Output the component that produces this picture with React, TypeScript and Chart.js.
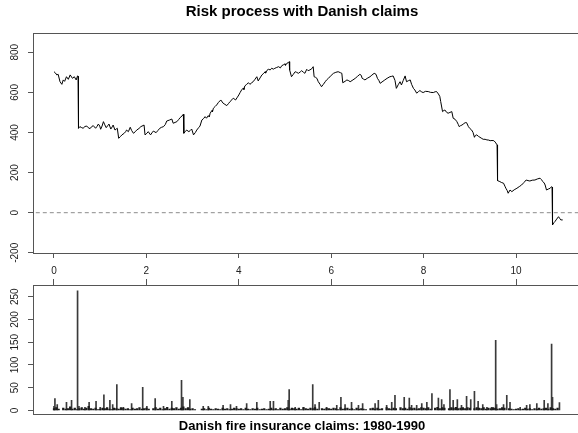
import React, { useEffect, useRef } from "react";
import { Chart, registerables } from "chart.js";

Chart.register(...registerables);

const FONT = "'Liberation Sans', Arial, Helvetica, sans-serif";

const mainTitle = "Risk process with Danish claims";
const xLabel = "Danish fire insurance claims: 1980-1990";

const xTicks = [0, 2, 4, 6, 8, 10];
const riskYTicks = [-200, 0, 200, 400, 600, 800];
const claimYTicks = [0, 50, 100, 150, 200, 250];

// [time, reserve] points of the risk process
const riskPoints = [
  [0.0, 703], [0.03, 697], [0.06, 687], [0.09, 690], [0.13, 653], [0.17, 640], [0.2, 662], [0.23, 655], [0.27, 678], [0.31, 665],
  [0.35, 687], [0.4, 670], [0.44, 678], [0.48, 662], [0.51, 682], [0.52, 680], [0.53, 421], [0.56, 429], [0.6, 424], [0.63, 421],
  [0.67, 430], [0.71, 432], [0.74, 424], [0.78, 419], [0.81, 428], [0.85, 434], [0.9, 421], [0.93, 430], [0.96, 442], [0.99, 432],
  [1.01, 416], [1.04, 432], [1.07, 454], [1.1, 438], [1.13, 424], [1.16, 433], [1.19, 442], [1.23, 417], [1.26, 428], [1.28, 437],
  [1.32, 412], [1.35, 418], [1.37, 421], [1.4, 371], [1.44, 380], [1.47, 388], [1.52, 396], [1.55, 404], [1.57, 412], [1.61, 404],
  [1.65, 426], [1.68, 410], [1.72, 396], [1.76, 404], [1.79, 412], [1.84, 420], [1.88, 429], [1.95, 437], [1.97, 388], [2.01, 396],
  [2.04, 404], [2.09, 388], [2.12, 398], [2.15, 407], [2.21, 399], [2.25, 410], [2.29, 421], [2.33, 426], [2.37, 429], [2.41, 440],
  [2.44, 457], [2.5, 462], [2.55, 467], [2.58, 446], [2.62, 450], [2.66, 454], [2.7, 465], [2.73, 474], [2.77, 482], [2.8, 491],
  [2.81, 396], [2.84, 404], [2.87, 412], [2.92, 404], [2.95, 410], [2.98, 417], [3.02, 388], [3.06, 400], [3.09, 412], [3.13, 424],
  [3.16, 432], [3.2, 462], [3.24, 470], [3.27, 479], [3.3, 471], [3.34, 484], [3.36, 477], [3.38, 496], [3.42, 510], [3.43, 503],
  [3.45, 521], [3.49, 530], [3.52, 537], [3.56, 550], [3.61, 562], [3.66, 546], [3.7, 540], [3.74, 534], [3.78, 545], [3.81, 554],
  [3.85, 563], [3.88, 571], [3.93, 562], [3.97, 576], [4.0, 587], [4.03, 600], [4.06, 612], [4.1, 622], [4.11, 614], [4.13, 632],
  [4.17, 640], [4.21, 648], [4.24, 640], [4.28, 648], [4.31, 653], [4.35, 665], [4.39, 678], [4.42, 657], [4.46, 672], [4.5, 687],
  [4.54, 695], [4.57, 703], [4.58, 696], [4.61, 710], [4.64, 715], [4.68, 712], [4.71, 720], [4.75, 716], [4.78, 720], [4.82, 724],
  [4.86, 728], [4.9, 722], [4.93, 733], [4.97, 738], [5.0, 742], [5.01, 735], [5.04, 745], [5.07, 748], [5.09, 753], [5.1, 712],
  [5.14, 678], [5.18, 690], [5.22, 703], [5.25, 700], [5.29, 695], [5.33, 702], [5.36, 708], [5.4, 700], [5.43, 695], [5.47, 715],
  [5.5, 708], [5.54, 712], [5.58, 718], [5.61, 728], [5.63, 678], [5.66, 675], [5.69, 670], [5.72, 653], [5.76, 640], [5.79, 628],
  [5.83, 640], [5.87, 653], [5.9, 662], [5.94, 670], [6.0, 685], [6.05, 695], [6.1, 700], [6.15, 703], [6.2, 698], [6.23, 695],
  [6.25, 648], [6.3, 655], [6.34, 662], [6.38, 658], [6.41, 653], [6.47, 662], [6.52, 670], [6.57, 680], [6.62, 690], [6.65, 685],
  [6.67, 670], [6.7, 666], [6.73, 662], [6.78, 670], [6.84, 678], [6.88, 686], [6.93, 695], [6.97, 690], [7.0, 670], [7.03, 660],
  [7.06, 645], [7.1, 652], [7.16, 662], [7.21, 670], [7.27, 678], [7.31, 680], [7.34, 682], [7.38, 660], [7.41, 620], [7.45, 638],
  [7.49, 653], [7.52, 637], [7.56, 660], [7.6, 682], [7.63, 653], [7.67, 658], [7.71, 662], [7.74, 640], [7.78, 620], [7.81, 612],
  [7.85, 596], [7.89, 604], [7.92, 609], [7.96, 602], [7.99, 599], [8.04, 605], [8.1, 604], [8.15, 600], [8.21, 599], [8.25, 603],
  [8.28, 604], [8.32, 592], [8.35, 580], [8.37, 554], [8.41, 504], [8.44, 510], [8.46, 512], [8.5, 500], [8.53, 496], [8.57, 500],
  [8.61, 504], [8.64, 471], [8.68, 466], [8.72, 454], [8.75, 440], [8.77, 429], [8.8, 434], [8.83, 437], [8.87, 444], [8.9, 449],
  [8.93, 449], [8.97, 429], [9.0, 420], [9.04, 412], [9.07, 400], [9.1, 376], [9.12, 385], [9.15, 388], [9.19, 380], [9.22, 376],
  [9.26, 370], [9.29, 366], [9.33, 366], [9.37, 363], [9.41, 362], [9.44, 359], [9.48, 360], [9.52, 359], [9.55, 352], [9.59, 338],
  [9.6, 160], [9.65, 155], [9.69, 150], [9.73, 147], [9.76, 132], [9.78, 122], [9.81, 110], [9.83, 97], [9.87, 113], [9.91, 105],
  [9.96, 114], [10.02, 122], [10.07, 130], [10.12, 138], [10.17, 150], [10.22, 163], [10.26, 160], [10.3, 158], [10.35, 162], [10.41, 163],
  [10.46, 168], [10.52, 172], [10.55, 165], [10.58, 155], [10.61, 148], [10.63, 138], [10.66, 113], [10.7, 118], [10.74, 122], [10.77, 130],
  [10.78, 128], [10.79, -61], [10.82, -50], [10.84, -45], [10.88, -32], [10.92, -20], [10.95, -30], [10.97, -36], [11.01, -36],
];

// [time, size] of the visible claims
const largeClaims = [
  [0.0, 9], [0.02, 26], [0.07, 13], [0.27, 18], [0.38, 22], [0.51, 263], [0.54, 9], [0.67, 7], [0.76, 18], [0.91, 20],
  [1.0, 7], [1.08, 34], [1.21, 22], [1.27, 13], [1.36, 57], [1.5, 7], [1.68, 15], [1.92, 51], [2.01, 9], [2.19, 26],
  [2.37, 9], [2.55, 20], [2.76, 66], [2.79, 29], [2.94, 24], [3.23, 9], [3.34, 9], [3.66, 11], [3.82, 13], [3.95, 9],
  [4.17, 15], [4.39, 18], [4.68, 20], [4.75, 20], [5.07, 22], [5.09, 46], [5.22, 7], [5.4, 7], [5.6, 57], [5.65, 13],
  [5.74, 18], [5.9, 7], [6.12, 11], [6.21, 29], [6.3, 13], [6.44, 18], [6.59, 11], [6.68, 15], [6.95, 15], [7.02, 22],
  [7.2, 11], [7.31, 18], [7.38, 33], [7.58, 29], [7.69, 27], [7.74, 11], [7.85, 11], [7.96, 15], [8.07, 18], [8.18, 37],
  [8.32, 27], [8.39, 24], [8.44, 13], [8.57, 46], [8.64, 22], [8.73, 24], [8.82, 11], [8.93, 31], [9.02, 24], [9.1, 42],
  [9.18, 20], [9.28, 13], [9.37, 7], [9.47, 7], [9.56, 154], [9.58, 13], [9.73, 13], [9.8, 33], [9.87, 18], [10.09, 7],
  [10.23, 11], [10.3, 13], [10.45, 15], [10.61, 22], [10.69, 15], [10.77, 146], [10.79, 29], [10.94, 17],
];

// [time, size] of the dense small claims along the base line
const smallClaims = [
  [0.0, 4], [0.05, 6], [0.1, 3], [0.2, 5], [0.25, 3], [0.3, 4], [0.35, 8], [0.4, 3], [0.45, 5], [0.5, 2],
  [0.55, 4], [0.6, 6], [0.65, 3], [0.7, 5], [0.75, 9], [0.8, 4], [0.85, 3], [0.9, 5], [0.95, 2],
  [1.0, 3], [1.05, 5], [1.1, 4], [1.15, 6], [1.2, 3], [1.25, 2], [1.3, 5], [1.35, 4], [1.4, 3], [1.45, 6],
  [1.5, 5], [1.55, 3], [1.6, 4], [1.65, 2], [1.7, 5], [1.75, 3], [1.8, 4], [1.85, 6], [1.9, 3], [1.95, 4],
  [2.0, 5], [2.05, 3], [2.15, 4], [2.2, 6], [2.25, 3], [2.3, 5], [2.35, 2], [2.4, 4], [2.45, 7], [2.5, 3],
  [2.55, 5], [2.6, 4], [2.65, 6], [2.7, 3], [2.75, 5], [2.8, 8], [2.85, 4], [2.9, 6], [2.95, 3],
  [3.0, 4], [3.05, 2], [3.2, 3], [3.25, 4], [3.3, 2], [3.35, 5], [3.4, 3], [3.45, 2], [3.5, 4], [3.55, 3],
  [3.6, 2], [3.65, 5], [3.7, 3], [3.75, 4], [3.8, 2], [3.85, 3], [3.9, 5], [3.95, 4],
  [4.0, 3], [4.05, 4], [4.1, 2], [4.15, 5], [4.2, 3], [4.25, 2], [4.3, 4], [4.35, 3], [4.4, 5], [4.45, 2],
  [4.5, 3], [4.55, 4], [4.6, 2], [4.65, 3], [4.7, 5], [4.75, 3], [4.8, 4], [4.85, 2], [4.9, 5], [4.95, 3],
  [5.0, 4], [5.05, 6], [5.1, 3], [5.15, 5], [5.2, 4], [5.25, 3], [5.3, 5], [5.35, 2], [5.4, 6], [5.45, 4],
  [5.5, 3], [5.55, 5], [5.6, 4], [5.65, 6], [5.7, 3], [5.8, 4], [5.85, 3], [5.9, 5], [5.95, 4],
  [6.0, 3], [6.05, 5], [6.1, 4], [6.15, 2], [6.2, 6], [6.25, 3], [6.3, 4], [6.35, 5], [6.4, 3], [6.45, 4],
  [6.5, 2], [6.55, 5], [6.6, 3], [6.65, 4], [6.7, 3], [6.75, 2], [6.85, 4], [6.9, 5], [6.95, 3],
  [7.0, 5], [7.05, 3], [7.1, 4], [7.2, 6], [7.25, 4], [7.3, 3], [7.35, 5], [7.4, 4], [7.5, 6], [7.55, 4],
  [7.6, 5], [7.65, 3], [7.7, 6], [7.75, 4], [7.8, 5], [7.85, 3], [7.9, 4], [7.95, 6],
  [8.0, 5], [8.05, 4], [8.1, 6], [8.15, 3], [8.25, 5], [8.3, 7], [8.35, 4], [8.4, 6], [8.45, 5], [8.55, 4],
  [8.6, 6], [8.65, 5], [8.7, 7], [8.75, 4], [8.8, 5], [8.85, 6], [8.9, 4], [8.95, 6],
  [9.0, 5], [9.1, 4], [9.15, 6], [9.2, 5], [9.25, 4], [9.3, 6], [9.35, 3], [9.4, 5], [9.45, 4], [9.5, 6],
  [9.55, 5], [9.6, 3], [9.65, 4], [9.7, 6], [9.75, 5], [9.85, 4], [9.9, 3], [9.95, 2],
  [10.0, 3], [10.05, 4], [10.1, 2], [10.15, 3], [10.2, 5], [10.25, 3], [10.3, 4], [10.35, 2], [10.4, 4], [10.45, 3],
  [10.5, 5], [10.55, 3], [10.6, 4], [10.65, 5], [10.7, 3], [10.75, 6], [10.8, 4], [10.85, 3], [10.9, 5],
];

const zeroLine = [[-1, 0], [13, 0]];

const X_MIN = -0.4545;
const X_MAX = 11.861;
const AXIS_COLOR = "#555555";

const boxPlugin = {
  id: "rbox",
  afterDatasetsDraw(chart: any) {
    const { ctx, chartArea: a } = chart;
    ctx.save();
    ctx.strokeStyle = AXIS_COLOR;
    ctx.lineWidth = 1;
    const l = Math.round(a.left) + 0.5;
    const t = Math.round(a.top) + 0.5;
    const r = Math.round(a.right) + 0.5;
    const b = Math.round(a.bottom) + 0.5;
    ctx.strokeRect(l, t, r - l, b - t);
    ctx.restore();
  },
};

const setTicks = (values: number[]) => (scale: any) => {
  scale.ticks = values.map((v) => ({ value: v }));
};

const yAxis = (min: number, max: number, ticks: number[], pad: number) => ({
  type: "linear",
  min,
  max,
  afterBuildTicks: setTicks(ticks),
  afterFit: (s: any) => {
    s.width = 31;
    s.paddingTop = 0;
    s.paddingBottom = 0;
  },
  grid: { display: true, drawOnChartArea: false, drawTicks: true, tickLength: 5, color: AXIS_COLOR },
  border: { display: false },
  ticks: {
    autoSkip: false,
    minRotation: 90,
    maxRotation: 90,
    crossAlign: "center",
    padding: pad,
    color: "#222",
    font: { size: 10, family: FONT },
  },
});

export default function App() {
  const topRef = useRef<HTMLCanvasElement>(null);
  const botRef = useRef<HTMLCanvasElement>(null);

  useEffect(() => {
    Chart.defaults.font.family = FONT;
    Chart.defaults.color = "#000";

    const top = new Chart(topRef.current as HTMLCanvasElement, {
      type: "line",
      data: {
        datasets: [
          {
            data: riskPoints.map(([x, y]) => ({ x, y })),
            borderColor: "#000",
            borderWidth: 1,
            pointRadius: 0,
            tension: 0,
            fill: false,
          },
          {
            data: zeroLine.map(([x, y]) => ({ x, y })),
            borderColor: "#8c8c8c",
            borderWidth: 1,
            borderDash: [4, 3],
            pointRadius: 0,
            fill: false,
          },
        ],
      },
      options: {
        animation: false,
        responsive: false,
        devicePixelRatio: 1,
        events: [],
        layout: { padding: { left: 2, right: 2, top: 0, bottom: 0 } },
        plugins: {
          legend: { display: false },
          tooltip: { enabled: false },
          title: {
            display: true,
            text: mainTitle,
            color: "#000",
            font: { size: 15, weight: "bold", family: FONT, lineHeight: 1.2 },
            padding: { top: 3, bottom: 12 },
          },
        },
        scales: {
          x: {
            type: "linear",
            min: X_MIN,
            max: X_MAX,
            afterBuildTicks: setTicks(xTicks),
            afterFit: (s: any) => {
              s.height = 27;
              s.paddingLeft = 0;
              s.paddingRight = 0;
            },
            grid: { display: true, drawOnChartArea: false, drawTicks: true, tickLength: 5, color: AXIS_COLOR },
            border: { display: false },
            ticks: { autoSkip: false, maxRotation: 0, padding: 7, color: "#222", font: { size: 10, family: FONT } },
          },
          y: yAxis(-201, 896, riskYTicks, 3),
        },
      } as any,
      plugins: [boxPlugin],
    } as any);

    const bottom = new Chart(botRef.current as HTMLCanvasElement, {
      type: "bar",
      data: {
        datasets: [
          {
            data: smallClaims.map(([x, y]) => ({ x, y })),
            backgroundColor: "#1a1a1a",
            borderWidth: 0,
            barThickness: 1.6,
            grouped: false,
          },
          {
            data: largeClaims.map(([x, y]) => ({ x, y })),
            backgroundColor: "#3a3a3a",
            borderWidth: 0,
            barThickness: 1,
            grouped: false,
          },
        ],
      },
      options: {
        animation: false,
        responsive: false,
        devicePixelRatio: 1,
        events: [],
        layout: { padding: { left: 2, right: 2, top: 0, bottom: 0 } },
        plugins: {
          legend: { display: false },
          tooltip: { enabled: false },
          title: {
            display: true,
            position: "bottom",
            text: xLabel,
            color: "#000",
            font: { size: 13, weight: "bold", family: FONT, lineHeight: 1.2 },
            padding: { top: 4, bottom: 0 },
          },
        },
        scales: {
          x: {
            type: "linear",
            position: "top",
            offset: false,
            min: X_MIN,
            max: X_MAX,
            afterBuildTicks: setTicks(xTicks),
            afterFit: (s: any) => {
              s.height = 7;
              s.paddingLeft = 0;
              s.paddingRight = 0;
            },
            grid: { display: true, offset: false, drawOnChartArea: false, drawTicks: true, tickLength: 6, color: AXIS_COLOR },
            border: { display: false },
            ticks: { display: false },
          },
          y: yAxis(-8.8, 275.8, claimYTicks, 4.7),
        },
      } as any,
      plugins: [boxPlugin],
    } as any);

    return () => {
      top.destroy();
      bottom.destroy();
    };
  }, []);

  return (
    <div
      style={{
        position: "absolute",
        left: 0,
        top: 0,
        width: 578,
        height: 433,
        overflow: "hidden",
        background: "#fff",
      }}
    >
      <canvas ref={topRef} width={604} height={280} style={{ position: "absolute", left: 0, top: 0 }} />
      <canvas ref={botRef} width={604} height={156} style={{ position: "absolute", left: 0, top: 278 }} />
    </div>
  );
}
